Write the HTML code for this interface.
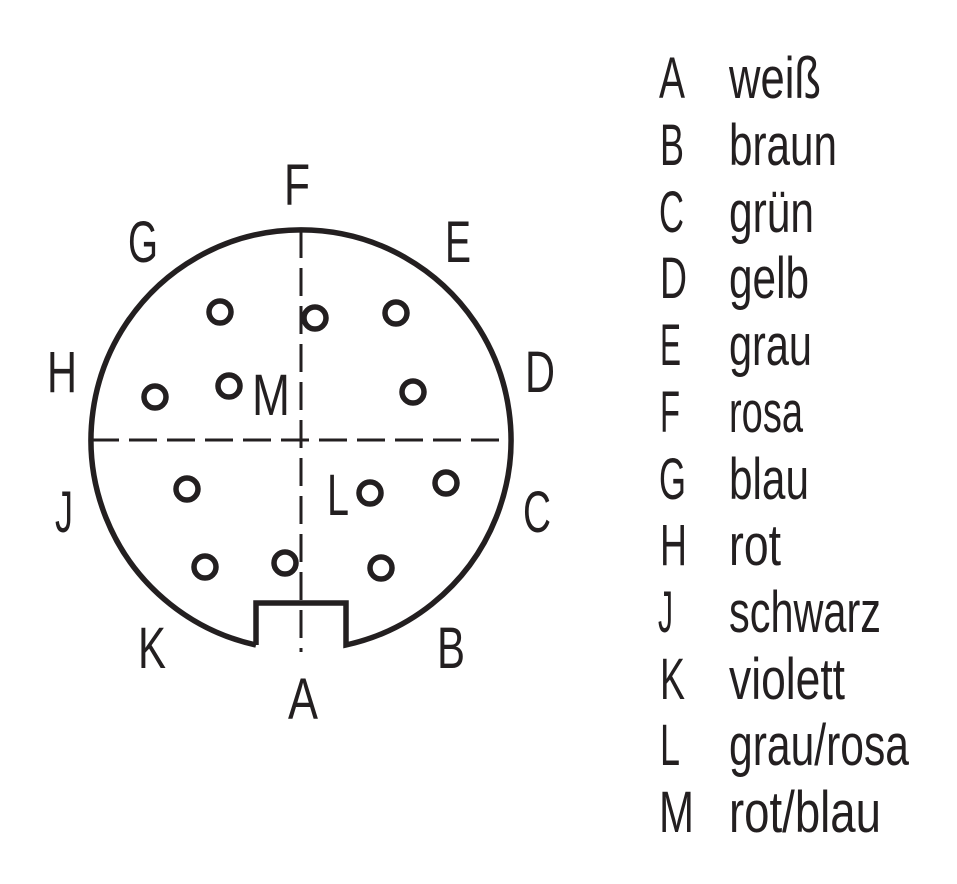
<!DOCTYPE html>
<html><head><meta charset="utf-8"><style>
html,body{margin:0;padding:0;background:#fff;width:957px;height:884px;overflow:hidden}
svg text{font-family:"Liberation Sans Narrow","Liberation Sans",sans-serif;font-size:58px;fill:#231f20}
</style></head><body>
<svg width="957" height="884" viewBox="0 0 957 884" xmlns="http://www.w3.org/2000/svg">
<g fill="none" stroke="#231f20">
<path d="M256,645 L256,603 L346,603 L346,645 A210,210 0 1 0 256,645" stroke-width="5.5" stroke-linejoin="miter"/>
<line x1="301" y1="230" x2="301" y2="652" stroke-width="3" stroke-dasharray="28 10"/>
<line x1="91" y1="440" x2="511" y2="440" stroke-width="3" stroke-dasharray="28 10"/>
<g stroke-width="5.5">
<circle cx="220" cy="312" r="11"/><circle cx="315" cy="318" r="11"/><circle cx="396" cy="313" r="11"/>
<circle cx="155" cy="397" r="11"/><circle cx="229" cy="386" r="11"/><circle cx="413" cy="392" r="11"/>
<circle cx="187" cy="489" r="11"/><circle cx="370" cy="493" r="11"/><circle cx="446" cy="483" r="11"/>
<circle cx="205" cy="567" r="11"/><circle cx="285" cy="563" r="11"/><circle cx="381" cy="568" r="11"/>
</g></g>
<g text-anchor="middle">
<text x="297" y="205" textLength="26" lengthAdjust="spacingAndGlyphs">F</text>
<text x="143" y="262" textLength="30" lengthAdjust="spacingAndGlyphs">G</text>
<text x="458" y="262" textLength="26" lengthAdjust="spacingAndGlyphs">E</text>
<text x="62" y="392" textLength="30" lengthAdjust="spacingAndGlyphs">H</text>
<text x="540" y="392" textLength="30" lengthAdjust="spacingAndGlyphs">D</text>
<text x="64" y="532" textLength="18" lengthAdjust="spacingAndGlyphs">J</text>
<text x="537" y="532" textLength="28" lengthAdjust="spacingAndGlyphs">C</text>
<text x="152" y="668" textLength="28" lengthAdjust="spacingAndGlyphs">K</text>
<text x="451" y="668" textLength="28" lengthAdjust="spacingAndGlyphs">B</text>
<text x="303" y="719" textLength="30" lengthAdjust="spacingAndGlyphs">A</text>
<text x="271" y="415" textLength="38" lengthAdjust="spacingAndGlyphs">M</text>
<text x="338" y="515" textLength="22" lengthAdjust="spacingAndGlyphs">L</text>
</g>
<g>
<text x="659" y="98" textLength="26" lengthAdjust="spacingAndGlyphs">A</text><text x="729" y="98" textLength="92" lengthAdjust="spacingAndGlyphs">weiß</text>
<text x="660" y="165" textLength="24" lengthAdjust="spacingAndGlyphs">B</text><text x="729" y="165" textLength="108" lengthAdjust="spacingAndGlyphs">braun</text>
<text x="659" y="232" textLength="25" lengthAdjust="spacingAndGlyphs">C</text><text x="729" y="232" textLength="85" lengthAdjust="spacingAndGlyphs">grün</text>
<text x="660" y="298" textLength="27" lengthAdjust="spacingAndGlyphs">D</text><text x="729" y="298" textLength="80" lengthAdjust="spacingAndGlyphs">gelb</text>
<text x="660" y="365" textLength="21" lengthAdjust="spacingAndGlyphs">E</text><text x="729" y="365" textLength="83" lengthAdjust="spacingAndGlyphs">grau</text>
<text x="660" y="432" textLength="20" lengthAdjust="spacingAndGlyphs">F</text><text x="729" y="432" textLength="74" lengthAdjust="spacingAndGlyphs">rosa</text>
<text x="659" y="499" textLength="27" lengthAdjust="spacingAndGlyphs">G</text><text x="729" y="499" textLength="80" lengthAdjust="spacingAndGlyphs">blau</text>
<text x="660" y="565" textLength="27" lengthAdjust="spacingAndGlyphs">H</text><text x="729" y="565" textLength="52" lengthAdjust="spacingAndGlyphs">rot</text>
<text x="658" y="632" textLength="15" lengthAdjust="spacingAndGlyphs">J</text><text x="729" y="632" textLength="152" lengthAdjust="spacingAndGlyphs">schwarz</text>
<text x="660" y="699" textLength="25" lengthAdjust="spacingAndGlyphs">K</text><text x="729" y="699" textLength="116" lengthAdjust="spacingAndGlyphs">violett</text>
<text x="660" y="765" textLength="20" lengthAdjust="spacingAndGlyphs">L</text><text x="729" y="765" textLength="180" lengthAdjust="spacingAndGlyphs">grau/rosa</text>
<text x="659" y="832" textLength="35" lengthAdjust="spacingAndGlyphs">M</text><text x="729" y="832" textLength="152" lengthAdjust="spacingAndGlyphs">rot/blau</text>
</g>
</svg>
</body></html>
